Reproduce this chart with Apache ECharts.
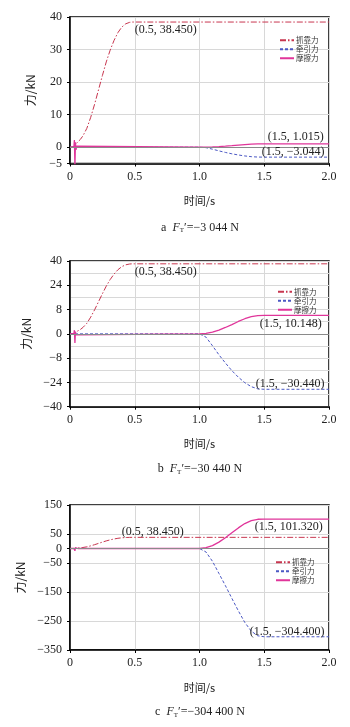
<!DOCTYPE html>
<html><head><meta charset="utf-8">
<script src="https://cdn.jsdelivr.net/npm/echarts@6/dist/echarts.min.js"></script>
<style>html,body{margin:0;padding:0;background:#fff}#c{width:350px;height:727px}</style>
</head><body><div id="c"></div>
<script>
// ---------- data ----------
const seriesNames = ['抓靠力', '牵引力', '摩擦力'];
const xTickLabels = [0, 0.5, 1.0, 1.5, 2.0];

// grip force (same in all three cases)
const timeGrip = [0, 0.03, 0.05, 0.08, 0.10, 0.13, 0.16, 0.19, 0.22, 0.25, 0.28, 0.31, 0.34, 0.37, 0.40, 0.43, 0.46, 0.48, 0.50, 2.0];
const gripForce = [0, 0.2, 1.2, 2.4, 3.5, 5.8, 9.2, 13.2, 17.6, 22.0, 26.2, 29.8, 32.8, 35.2, 36.9, 37.9, 38.35, 38.45, 38.45, 38.45];

// traction force
const timeTraction = [0, 1.0, 1.05, 1.1, 1.15, 1.2, 1.25, 1.3, 1.35, 1.4, 1.45, 1.5, 2.0];
const tractionA = [0, 0, -0.12, -0.6, -1.12, -1.6, -2.02, -2.38, -2.68, -2.9, -3.02, -3.044, -3.044];
const tractionB = [0, 0, -1.8, -6.5, -11.5, -16.0, -20.2, -23.8, -26.8, -29.0, -30.2, -30.44, -30.44];
const tractionC = [0, 0, -12, -44, -86, -128, -172, -215, -255, -285, -301, -304.4, -304.4];

// friction force (start-up spike + transition)
const timeFriction = [0, 0.030, 0.034, 0.038, 0.042, 0.046, 0.052, 0.06, 1.0, 1.05, 1.1, 1.15, 1.2, 1.25, 1.3, 1.35, 1.4, 1.45, 1.5, 2.0];
const frictionA = [0, 0, 2.2, -6.0, 1.5, -0.8, 0.3, 0, 0, 0.02, 0.08, 0.18, 0.32, 0.48, 0.66, 0.82, 0.94, 1.0, 1.015, 1.015];
const frictionB = [0, 0, 2.0, -5.0, 1.2, -0.6, 0.2, 0, 0, 0.3, 1.0, 2.1, 3.5, 5.1, 6.8, 8.3, 9.4, 10.0, 10.148, 10.148];
const frictionC = [0, 0, 4, -8, 3, -2, 1, 0, 0, 3, 10, 22, 37, 54, 71, 86, 96, 100.8, 101.32, 101.32];

// y tick labels
const yLabelsA = [-5, 0, 10, 20, 30, 40];
const yLabelsB = ['−40', '−24', '−8', '0', '8', '24', '40'];
const yLabelsC = [-350, -250, -150, -50, 0, 50, 150];

// annotations
const annA = [[0.5, 38.45, '(0.5, 38.450)'], [1.5, 1.015, '(1.5, 1.015)'], [1.5, -3.044, '(1.5, −3.044)']];
const annB = [[0.5, 38.45, '(0.5, 38.450)'], [1.5, 10.148, '(1.5, 10.148)'], [1.5, -30.44, '(1.5, −30.440)']];
const annC = [[0.5, 38.45, '(0.5, 38.450)'], [1.5, 101.32, '(1.5, 101.320)'], [1.5, -304.4, '(1.5, −304.400)']];

const captions = [['a', '−3 044 N'], ['b', '−30 440 N'], ['c', '−304 400 N']];

// ---------- styling ----------
const SERIF = '"Liberation Serif","Times New Roman",serif';
const CJK = '"Noto Sans CJK SC",sans-serif';
const cGrip = '#c8364f', cTrac = '#4b58c4', cFric = '#e0359a';

const grids = [
  {left: 70, top: 17, width: 259, height: 146.5},
  {left: 70, top: 261, width: 259, height: 145.7},
  {left: 70, top: 505, width: 259, height: 145}
];
const zip = (t, v) => t.map((x, i) => [x, v[i]]);
const fmtMinus = v => (v < 0 ? '−' + Math.abs(v) : String(v));

function xAxis(i) {
  return {
    type: 'value', gridIndex: i, min: 0, max: 2, interval: 0.25,
    name: '时间/s', nameLocation: 'middle', nameGap: 32,
    nameTextStyle: {fontFamily: CJK, fontSize: 11, color: '#222'},
    axisLine: {show: true, onZero: false, lineStyle: {color: '#000', width: 1.5}},
    axisTick: {show: true, length: 3, customValues: xTickLabels, lineStyle: {color: '#000'}},
    axisLabel: {customValues: xTickLabels, margin: 7, fontFamily: SERIF, fontSize: 12, color: '#222',
      formatter: v => v === 0 ? '0' : v.toFixed(1)},
    splitLine: {show: true, lineStyle: {color: '#d8d8d8', width: 1}}
  };
}
function yBase(i) {
  return {
    type: 'value', gridIndex: i,
    name: '力/kN', nameLocation: 'middle', nameGap: 34,
    nameTextStyle: {fontFamily: CJK, fontSize: 12, color: '#222'},
    axisLine: {show: true, onZero: false, lineStyle: {color: '#000', width: 1.5}},
    axisTick: {show: true, length: 3, lineStyle: {color: '#000'}},
    axisLabel: {margin: 8, fontFamily: SERIF, fontSize: 12, color: '#222'},
    splitLine: {show: true, lineStyle: {color: '#d8d8d8', width: 1}}
  };
}
const yA = yBase(0);
Object.assign(yA, {min: -5, max: 40, interval: 5});
yA.axisLabel = Object.assign({}, yA.axisLabel, {customValues: yLabelsA, formatter: fmtMinus});
yA.axisTick = Object.assign({}, yA.axisTick, {customValues: yLabelsA});

const stepB = 40 / 3;
const yB = yBase(1);
Object.assign(yB, {min: -40, max: 40, interval: stepB,
  minorTick: {show: true, splitNumber: 2, length: 0},
  minorSplitLine: {show: true, lineStyle: {color: '#d8d8d8', width: 1}}});
yB.axisLabel = Object.assign({}, yB.axisLabel, {formatter: v => yLabelsB[Math.round(v / stepB) + 3]});

const yC = yBase(2);
Object.assign(yC, {min: -350, max: 150, interval: 50});
yC.axisLabel = Object.assign({}, yC.axisLabel, {customValues: yLabelsC, formatter: fmtMinus});
yC.axisTick = Object.assign({}, yC.axisTick, {customValues: yLabelsC});

// label offsets (presentation only)
const annOffsets = [
  [[0, 8], [3.5, -7], [-2.5, -5.5]],
  [[0, 8], [-4.5, 8.5], [-8.5, -5.5]],
  [[-13, -6], [-9.5, 7.4], [-14.5, -5.3]]
];
function annPoint(ann, i, k) {
  const a = ann[k];
  return {
    coord: [a[0], a[1]],
    label: {show: true, position: annOffsets[i][k], align: 'left', verticalAlign: 'middle',
      formatter: a[2], fontFamily: SERIF, fontSize: 12, color: '#222'}
  };
}
const mp = d => ({silent: true, symbol: 'circle', symbolSize: 0, animation: false, data: [d]});

const tractions = [tractionA, tractionB, tractionC];
const frictions = [frictionA, frictionB, frictionC];
const anns = [annA, annB, annC];

const series = [];
for (let i = 0; i < 3; i++) {
  series.push({
    name: seriesNames[0], type: 'line', xAxisIndex: i, yAxisIndex: i, showSymbol: false, symbol: 'none',
    data: zip(timeGrip, gripForce), z: 3,
    lineStyle: {color: cGrip, width: 1, type: [6, 2, 1.5, 2]}, itemStyle: {color: cGrip},
    markPoint: mp(annPoint(anns[i], i, 0))
  });
  series.push({
    name: seriesNames[1], type: 'line', xAxisIndex: i, yAxisIndex: i, showSymbol: false, symbol: 'none',
    data: zip(timeTraction, tractions[i]), z: 3,
    lineStyle: {color: cTrac, width: 1, type: [3, 2]}, itemStyle: {color: cTrac},
    markLine: {silent: true, symbol: 'none', animation: false, label: {show: false},
      lineStyle: {color: '#8a8a8a', width: 1, type: 'solid'}, data: [{yAxis: 0}]},
    markPoint: mp(annPoint(anns[i], i, 2))
  });
  series.push({
    name: seriesNames[2], type: 'line', xAxisIndex: i, yAxisIndex: i, showSymbol: false, symbol: 'none',
    data: zip(timeFriction, frictions[i]), z: 4,
    lineStyle: {color: cFric, width: 1.3}, itemStyle: {color: cFric},
    markPoint: mp(annPoint(anns[i], i, 1))
  });
}

const legendPos = [{left: 279, top: 36.5}, {left: 277, top: 288}, {left: 275, top: 558.5}];
const legends = legendPos.map(p => ({
  data: seriesNames, orient: 'vertical', left: p.left, top: p.top, padding: 0,
  itemWidth: 14, itemHeight: 5, itemGap: 1.5, selectedMode: false,
  itemStyle: {opacity: 0, borderWidth: 0},
  textStyle: {fontFamily: CJK, fontSize: 7.5, lineHeight: 7, color: '#333', padding: [0, 0, 0, -3]}
}));

const captionY = [227.7, 469.3, 712.3];
const graphic = captions.map((c, i) => ({
  type: 'text', x: 200, y: captionY[i], silent: true,
  style: {
    text: c[0] + '  {i|F}{s|T}′=' + c[1],
    font: '12px ' + SERIF, fill: '#222', align: 'center', verticalAlign: 'middle',
    rich: {
      i: {fontFamily: SERIF, fontStyle: 'italic', fontSize: 12, fill: '#222'},
      s: {fontFamily: SERIF, fontSize: 7, fill: '#222', verticalAlign: 'bottom', padding: [5, 0, 0, 0]}
    }
  }
}));

const chart = echarts.init(document.getElementById('c'), null, {renderer: 'canvas'});
chart.setOption({
  animation: false,
  backgroundColor: '#fff',
  grid: grids.map(g => Object.assign({show: true, borderColor: '#000', borderWidth: 1.5, backgroundColor: 'transparent'}, g)),
  xAxis: [xAxis(0), xAxis(1), xAxis(2)],
  yAxis: [yA, yB, yC],
  legend: legends,
  series: series,
  graphic: graphic
});
</script></body></html>
